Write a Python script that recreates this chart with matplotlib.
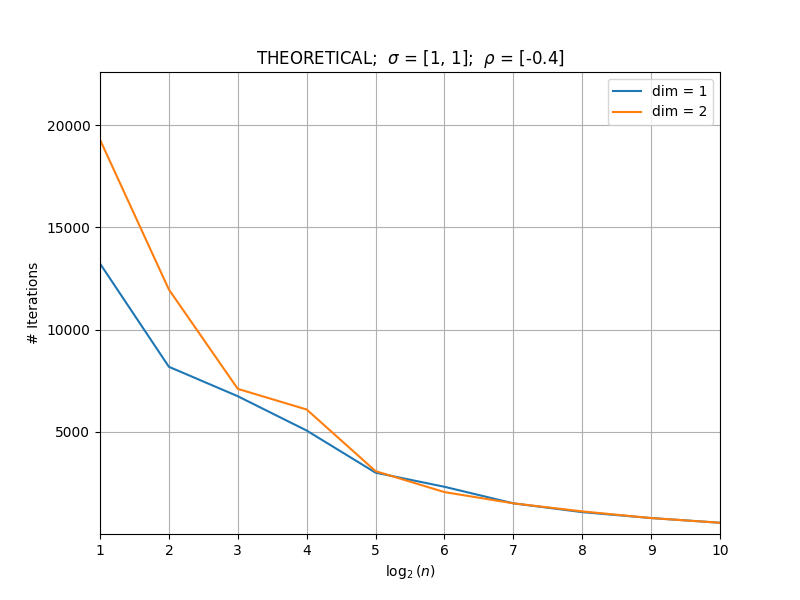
import matplotlib
matplotlib.use("Agg")
import matplotlib.pyplot as plt

# log2(n) values and iteration counts
log2_n = [1, 2, 3, 4, 5, 6, 7, 8, 9, 10]
iters_dim1 = [13230, 8180, 6740, 5060, 3000, 2310, 1500, 1070, 780, 550]
iters_dim2 = [19290, 11960, 7100, 6090, 3075, 2050, 1500, 1105, 780, 550]

fig, ax = plt.subplots(figsize=(8, 6), dpi=100)
ax.plot(log2_n, iters_dim1, label="dim = 1")
ax.plot(log2_n, iters_dim2, label="dim = 2")

ax.set_xlim(1, 10)
ax.set_ylim(0, 22600)
ax.set_xticks(log2_n)
ax.set_yticks([5000, 10000, 15000, 20000])
ax.set_xlabel(r"$\log_2(n)$")
ax.set_ylabel("# Iterations")
ax.set_title(r"THEORETICAL;  $\sigma$ = [1, 1];  $\rho$ = [-0.4]")
ax.grid(True)
ax.legend(loc="upper right")

fig.savefig("out.png", dpi=100)
